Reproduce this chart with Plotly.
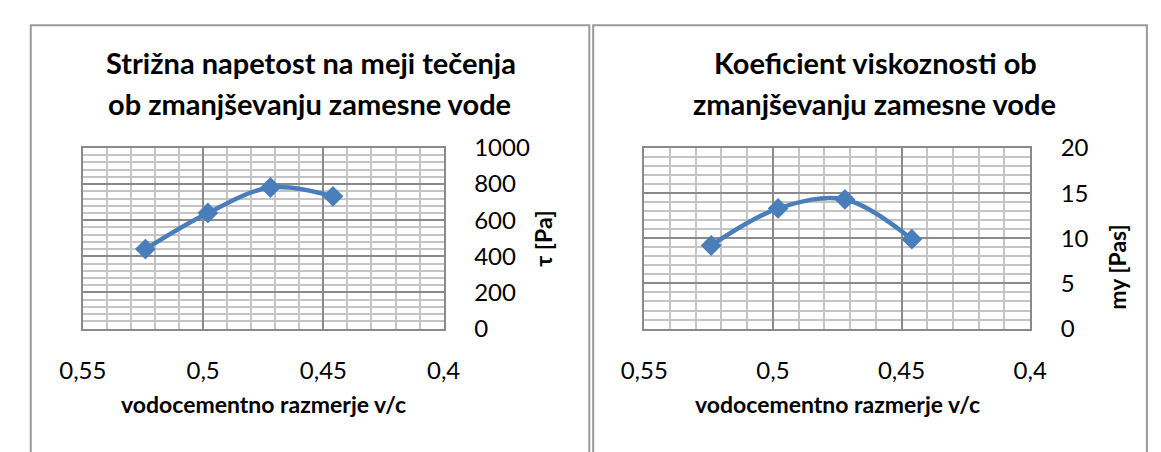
import plotly.graph_objects as go

# Water/cement ratio for the four mixes
vc_ratio = [0.524, 0.498, 0.472, 0.446]

# Yield shear stress [Pa]
shear_stress = [440, 640, 781, 732]

# Viscosity coefficient [Pas]
viscosity = [9.2, 13.3, 14.3, 9.9]

x_tick_vals = [0.55, 0.5, 0.45, 0.4]
x_tick_labels = ["0,55", "0,5", "0,45", "0,4"]
tau_ticks = [0, 200, 400, 600, 800, 1000]
my_ticks = [0, 5, 10, 15, 20]

W, H = 1161, 452
FONT = "Lato, 'Open Sans', sans-serif"
BLUE = "#4A7EBB"
MAJOR = "#8A8A8A"
MINOR = "#C4C4C4"


def px(x):
    return x / W


def py(y):
    return 1 - y / H


fig = go.Figure()

series = [
    (vc_ratio, shear_stress, "x", "y"),
    (vc_ratio, viscosity, "x2", "y2"),
]
for xs, ys, xa, ya in series:
    fig.add_trace(go.Scatter(
        x=xs, y=ys, xaxis=xa, yaxis=ya,
        mode="lines+markers",
        line=dict(color=BLUE, width=4.5, shape="spline", smoothing=1.0),
        marker=dict(symbol="diamond", size=16, color=BLUE),
        showlegend=False, hoverinfo="x+y",
    ))


def x_axis(domain, anchor):
    return dict(
        domain=domain, anchor=anchor, range=[0.55, 0.4],
        tickmode="array", tickvals=x_tick_vals, ticktext=x_tick_labels,
        ticks="", ticklabelstandoff=20,
        showgrid=True, gridcolor=MAJOR, gridwidth=1.5,
        minor=dict(dtick=0.01, tick0=0.4, showgrid=True, gridcolor=MINOR, gridwidth=1.5),
        showline=True, mirror=True, linecolor=MAJOR, linewidth=1.5,
        zeroline=False,
        tickfont=dict(family=FONT, size=24, color="#000"),
    )


def y_axis(domain, anchor, top, major, minor_step):
    return dict(
        domain=domain, anchor=anchor, side="right", range=[0, top],
        tickmode="array", tickvals=major, ticktext=[str(v) for v in major],
        ticks="", ticklabelstandoff=24,
        showgrid=True, gridcolor=MAJOR, gridwidth=1.5,
        minor=dict(dtick=minor_step, tick0=0, showgrid=True, gridcolor=MINOR, gridwidth=1.5),
        showline=True, mirror=True, linecolor=MAJOR, linewidth=1.5,
        zeroline=False,
        tickfont=dict(family=FONT, size=24, color="#000"),
    )


y_dom = [py(334), py(141)]
fig.update_layout(
    width=W, height=H,
    margin=dict(l=0, r=0, t=0, b=0),
    paper_bgcolor="white", plot_bgcolor="white",
    xaxis=x_axis([px(61), px(435)], "y"),
    yaxis=y_axis(y_dom, "x", 1000, tau_ticks, 40),
    xaxis2=x_axis([px(643), px(1043)], "y2"),
    yaxis2=y_axis(y_dom, "x2", 20, my_ticks, 1),
)

# Chart frames
for x0, x1 in [(7, 586), (590, 1164)]:
    fig.add_shape(type="rect", xref="paper", yref="paper",
                  x0=px(x0), x1=px(x1), y0=py(470), y1=py(10),
                  line=dict(color="#9A9A9A", width=2), fillcolor="rgba(0,0,0,0)")

texts = [
    ("Strižna napetost na meji tečenja", 297, 50, 29, 0),
    ("ob zmanjševanju zamesne vode", 296, 93, 29, 0),
    ("Koeficient viskoznosti ob", 883, 50, 29, 0),
    ("zmanjševanju zamesne vode", 882, 93, 29, 0),
    ("vodocementno razmerje v/c", 248, 415, 23, 0),
    ("vodocementno razmerje v/c", 843, 415, 23, 0),
    ("τ [Pa]", 538, 238, 23, -90),
    ("my [Pas]", 1133, 268, 23, -90),
]
for txt, x, y, size, ang in texts:
    fig.add_annotation(
        text="<b>%s</b>" % txt, xref="paper", yref="paper",
        x=px(x), y=py(y), xanchor="center", yanchor="middle",
        showarrow=False, textangle=ang,
        font=dict(family=FONT, size=size, color="#000"),
    )

fig.write_html("out.html")
